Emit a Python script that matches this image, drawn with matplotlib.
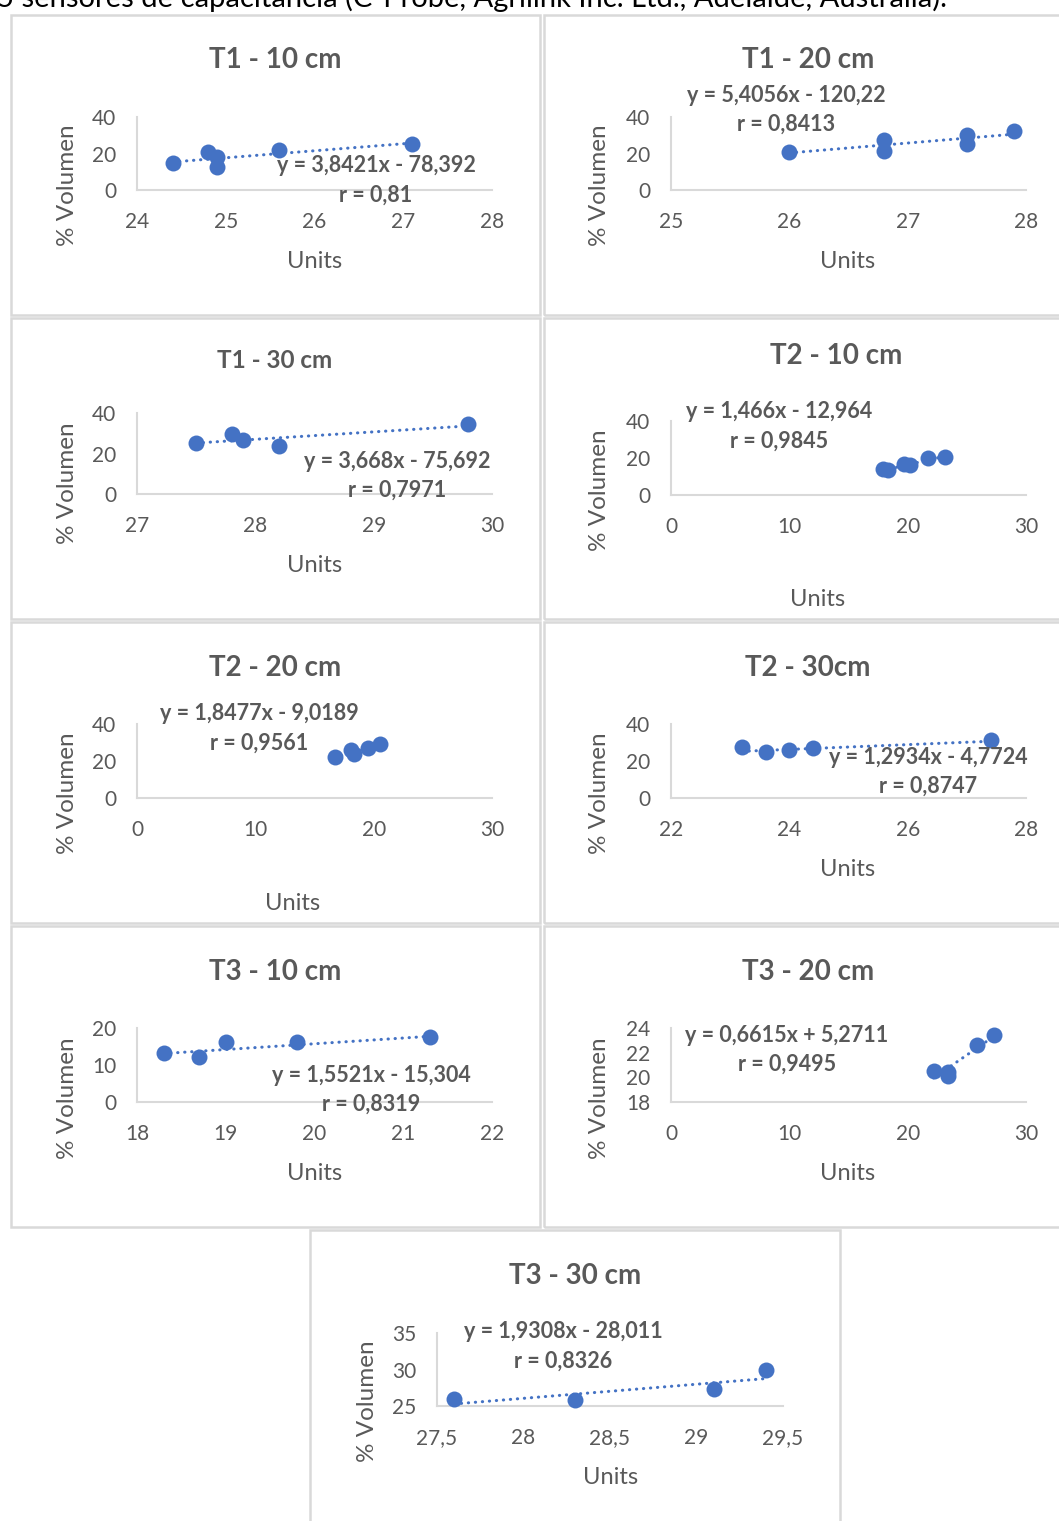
import numpy as np
import matplotlib
matplotlib.use("Agg")
import matplotlib.pyplot as plt
from matplotlib.patches import Rectangle

plt.rcParams['font.family'] = ['Lato', 'DejaVu Sans']

# datos (Units vs % Volumen)
titles = ["T1 - 10 cm", "T1 - 20 cm", "T1 - 30 cm", "T2 - 10 cm", "T2 - 20 cm",
          "T2 - 30cm", "T3 - 10 cm", "T3 - 20 cm", "T3 - 30 cm"]

t1_10_x = [24.4, 24.8, 24.9, 24.9, 25.6, 27.1]
t1_10_y = [15.0, 20.9, 18.0, 12.8, 22.0, 25.3]
t1_20_x = [26.0, 26.8, 26.8, 27.5, 27.5, 27.9]
t1_20_y = [20.7, 27.5, 21.6, 30.3, 25.3, 32.1]
t1_30_x = [27.5, 27.8, 27.9, 28.2, 29.8]
t1_30_y = [25.3, 29.7, 26.7, 23.8, 34.7]
t2_10_x = [17.9, 18.3, 19.7, 20.2, 21.7, 23.15]
t2_10_y = [13.8, 13.4, 16.7, 16.1, 19.8, 20.7]
t2_20_x = [16.7, 18.1, 18.3, 19.5, 20.5]
t2_20_y = [22.0, 26.2, 23.9, 27.0, 29.4]
t2_30_x = [23.2, 23.6, 24.0, 24.4, 27.4]
t2_30_y = [27.5, 24.8, 26.2, 27.0, 31.6]
t3_10_x = [18.3, 18.7, 19.0, 19.8, 21.3]
t3_10_y = [13.3, 12.2, 16.1, 16.2, 17.7]
t3_20_x = [22.2, 23.4, 23.45, 25.9, 27.3]
t3_20_y = [20.5, 20.4, 20.1, 22.6, 23.45]
t3_30_x = [27.6, 28.3, 29.1, 29.4]
t3_30_y = [25.9, 25.8, 27.3, 29.95]

# lineas de tendencia (pendiente, intercepto) y r
slopes = [3.8421, 5.4056, 3.668, 1.466, 1.8477, 1.2934, 1.5521, 0.6615, 1.9308]
intercepts = [-78.392, -120.22, -75.692, -12.964, -9.0189, -4.7724, -15.304, 5.2711, -28.011]
eq_labels = ["y = 3,8421x - 78,392", "y = 5,4056x - 120,22", "y = 3,668x - 75,692",
             "y = 1,466x - 12,964", "y = 1,8477x - 9,0189", "y = 1,2934x - 4,7724",
             "y = 1,5521x - 15,304", "y = 0,6615x + 5,2711", "y = 1,9308x - 28,011"]
r_labels = ["r = 0,81", "r = 0,8413", "r = 0,7971", "r = 0,9845", "r = 0,9561",
            "r = 0,8747", "r = 0,8319", "r = 0,9495", "r = 0,8326"]

xticks = [[24, 25, 26, 27, 28], [25, 26, 27, 28], [27, 28, 29, 30], [0, 10, 20, 30],
          [0, 10, 20, 30], [22, 24, 26, 28], [18, 19, 20, 21, 22], [0, 10, 20, 30],
          [27.5, 28, 28.5, 29, 29.5]]
yticks = [[0, 20, 40], [0, 20, 40], [0, 20, 40], [0, 20, 40], [0, 20, 40],
          [0, 20, 40], [0, 10, 20], [18, 20, 22, 24], [25, 30, 35]]

xs = [t1_10_x, t1_20_x, t1_30_x, t2_10_x, t2_20_x, t2_30_x, t3_10_x, t3_20_x, t3_30_x]
ys = [t1_10_y, t1_20_y, t1_30_y, t2_10_y, t2_20_y, t2_30_y, t3_10_y, t3_20_y, t3_30_y]

# posiciones en pixeles de la imagen
W, H = 1059, 1521
boxes = [(11, 15, 540, 315), (544, 15, 1070, 315), (11, 318, 540, 619), (544, 318, 1070, 619),
         (11, 622, 540, 923), (544, 622, 1070, 923), (11, 926, 540, 1227), (544, 926, 1070, 1227),
         (310, 1230, 840, 1530)]
axpos = [(137, 117, 492, 190), (671, 117, 1026, 190), (137, 413, 492, 494), (671, 421, 1026, 495),
         (137, 724, 492, 798), (671, 724, 1026, 798), (137, 1028, 492, 1102), (671, 1028, 1026, 1102),
         (437, 1333, 783, 1406)]
title_pos = [(275, 60, 20), (808, 60, 20), (275, 360, 17.5), (836, 356, 20), (275, 668, 20),
             (808, 668, 20), (275, 972, 20), (808, 972, 20), (575, 1276, 20)]
units_pos = [(315, 262), (848, 262), (315, 565), (818, 600), (293, 904), (848, 869),
             (315, 1173), (848, 1173), (611, 1477)]
vol_pos = [(67, 185), (600, 185), (67, 483), (600, 490), (67, 793), (600, 793),
           (67, 1098), (600, 1098), (367, 1401)]
eq_pos = [(376, 166), (786, 95), (397, 461), (779, 412), (259, 714), (928, 757),
          (371, 1075), (787, 1035), (563, 1332)]

grey = "#595959"
blue = "#4472C4"
line_grey = "#D9D9D9"


def fmt(v):
    return ("%g" % v).replace(".", ",")


fig = plt.figure(figsize=(W / 100, H / 100), dpi=100)

fig.text(-3 / W, 1 - 7 / H,
         "5 sensores de capacitancia (C-Probe, Agrilink Inc. Ltd., Adelaide, Australia).",
         fontsize=21, color="black", va="baseline", ha="left")

for i in range(9):
    bx0, by0, bx1, by1 = boxes[i]
    fig.patches.append(Rectangle((bx0 / W, 1 - by1 / H), (bx1 - bx0) / W, (by1 - by0) / H,
                                 transform=fig.transFigure, fill=False,
                                 edgecolor=line_grey, linewidth=1.8))

    x0, yt, x1, yb = axpos[i]
    ax = fig.add_axes([x0 / W, 1 - yb / H, (x1 - x0) / W, (yb - yt) / H])
    ax.set_facecolor("none")

    x = np.array(xs[i])
    y = np.array(ys[i])
    xl = np.array([x.min(), x.max()])
    ax.plot(xl, slopes[i] * xl + intercepts[i], color=blue, lw=2.2,
            linestyle=(0, (0.1, 2.2)), dash_capstyle="round", clip_on=False, zorder=2)
    ax.plot(x, y, "o", color=blue, markersize=11.5, markeredgewidth=0, clip_on=False, zorder=3)

    ax.set_xlim(xticks[i][0], xticks[i][-1])
    ax.set_ylim(yticks[i][0], yticks[i][-1])
    ax.set_xticks(xticks[i])
    ax.set_xticklabels([fmt(v) for v in xticks[i]])
    ax.set_yticks(yticks[i])
    ax.set_yticklabels([fmt(v) for v in yticks[i]])
    ax.tick_params(length=0, labelsize=15, labelcolor=grey)
    ax.tick_params(axis="x", pad=16)
    ax.tick_params(axis="y", pad=15)
    for s in ["top", "right"]:
        ax.spines[s].set_visible(False)
    for s in ["left", "bottom"]:
        ax.spines[s].set_color(line_grey)
        ax.spines[s].set_linewidth(1.5)

    tx, ty, ts = title_pos[i]
    fig.text(tx / W, 1 - ty / H, titles[i], fontsize=ts, fontweight="bold",
             color=grey, ha="center", va="center")
    ux, uy = units_pos[i]
    fig.text(ux / W, 1 - uy / H, "Units", fontsize=17, color=grey, ha="center", va="center")
    vx, vy = vol_pos[i]
    fig.text(vx / W, 1 - vy / H, "% Volumen", fontsize=17.5, color=grey, ha="center",
             va="center", rotation=90)
    ex, ey = eq_pos[i]
    fig.text(ex / W, 1 - ey / H, eq_labels[i], fontsize=15.5, fontweight="bold",
             color=grey, ha="center", va="center")
    fig.text(ex / W, 1 - (ey + 29) / H, r_labels[i], fontsize=15.5, fontweight="bold",
             color=grey, ha="center", va="center")

plt.savefig("out.png", dpi=100)
plt.close()
